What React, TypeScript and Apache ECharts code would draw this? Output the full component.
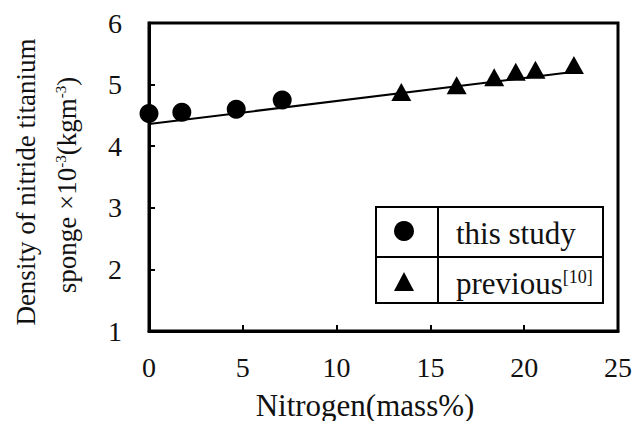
import React, { useEffect, useRef } from "react";
import * as echarts from "echarts";

const thisStudy: [number, number][] = [
  [0, 4.53],
  [1.75, 4.55],
  [4.65, 4.6],
  [7.1, 4.75],
];
const previous: [number, number][] = [
  [13.45, 4.88],
  [16.4, 4.99],
  [18.4, 5.12],
  [19.55, 5.21],
  [20.6, 5.24],
  [22.65, 5.32],
];
const fitLine: [number, number][] = [
  [0, 4.36],
  [23, 5.22],
];
const xTitle = "Nitrogen(mass%)";
const yTitle1 = "Density of nitride titanium";
const yTitle2 = "sponge ×10{sup|-3}(kgm{sup|-3})";
const legendNames = ["this study", "previous{sup|[10]}"];

const FONT = "Liberation Serif";
const INK = "#111";

export default function App() {
  const ref = useRef<HTMLDivElement>(null);
  useEffect(() => {
    if (!ref.current) return;
    const chart = echarts.init(ref.current, undefined, { renderer: "svg" });
    const sup = { fontSize: 15, fontFamily: FONT, color: INK, verticalAlign: "top" as const };
    chart.setOption({
      animation: false,
      backgroundColor: "#fff",
      textStyle: { fontFamily: FONT },
      grid: {
        left: 149,
        right: 16,
        top: 23,
        bottom: 90,
        show: true,
        borderColor: "#000",
        borderWidth: 3,
        backgroundColor: "transparent",
      },
      xAxis: {
        type: "value",
        min: 0,
        max: 25,
        interval: 5,
        axisLine: { show: true, lineStyle: { color: "#000", width: 3 } },
        axisTick: { show: true, inside: true, length: 6, lineStyle: { color: "#000", width: 2 } },
        axisLabel: { fontFamily: FONT, fontSize: 28, color: INK, margin: 22 },
        splitLine: { show: false },
      },
      yAxis: {
        type: "value",
        min: 1,
        max: 6,
        interval: 1,
        axisLine: { show: true, lineStyle: { color: "#000", width: 3 } },
        axisTick: { show: true, inside: true, length: 6, lineStyle: { color: "#000", width: 2 } },
        axisLabel: { fontFamily: FONT, fontSize: 28, color: INK, margin: 27 },
        splitLine: { show: false },
      },
      series: [
        {
          type: "line",
          data: fitLine,
          symbol: "none",
          lineStyle: { color: "#000", width: 2 },
          z: 2,
        },
        {
          name: "this study",
          type: "scatter",
          data: thisStudy,
          symbol: "circle",
          symbolSize: 19,
          itemStyle: { color: "#000", opacity: 1 },
          z: 3,
        },
        {
          name: "previous",
          type: "scatter",
          data: previous,
          symbol: "triangle",
          symbolSize: [20, 18],
          itemStyle: { color: "#000", opacity: 1 },
          z: 3,
        },
      ],
      graphic: [
        {
          type: "text",
          x: 365,
          y: 405,
          style: {
            text: xTitle,
            fontSize: 31,
            fontFamily: FONT,
            fill: INK,
            align: "center",
            verticalAlign: "middle",
          },
        },
        {
          type: "text",
          x: 26,
          y: 182,
          rotation: Math.PI / 2,
          style: {
            text: yTitle1,
            fontSize: 27,
            fontFamily: FONT,
            fill: INK,
            align: "center",
            verticalAlign: "middle",
          },
        },
        {
          type: "text",
          x: 67,
          y: 185,
          rotation: Math.PI / 2,
          style: {
            text: yTitle2,
            fontSize: 27,
            fontFamily: FONT,
            fill: INK,
            align: "center",
            verticalAlign: "middle",
            rich: { sup },
          },
        },
        {
          type: "group",
          z: 100,
          children: [
            {
              type: "rect",
              shape: { x: 376, y: 207, width: 227, height: 96 },
              style: { fill: "#fff", stroke: "#000", lineWidth: 2 },
            },
            {
              type: "line",
              shape: { x1: 438, y1: 207, x2: 438, y2: 303 },
              style: { stroke: "#000", lineWidth: 2 },
            },
            {
              type: "line",
              shape: { x1: 376, y1: 257, x2: 603, y2: 257 },
              style: { stroke: "#000", lineWidth: 2 },
            },
            {
              type: "circle",
              shape: { cx: 404, cy: 231, r: 10 },
              style: { fill: "#000" },
            },
            {
              type: "polygon",
              shape: { points: [[404, 272], [414, 291], [394, 291]] },
              style: { fill: "#000" },
            },
            {
              type: "text",
              x: 456,
              y: 233,
              style: {
                text: legendNames[0],
                fontSize: 31,
                fontFamily: FONT,
                fill: INK,
                align: "left",
                verticalAlign: "middle",
              },
            },
            {
              type: "text",
              x: 456,
              y: 283,
              style: {
                text: legendNames[1],
                fontSize: 31,
                fontFamily: FONT,
                fill: INK,
                align: "left",
                verticalAlign: "middle",
                rich: { sup: { ...sup, fontSize: 18 } },
              },
            },
          ],
        },
      ],
    });
    return () => chart.dispose();
  }, []);
  return <div ref={ref} style={{ width: 635, height: 421, position: "absolute", left: 0, top: 0 }} />;
}
